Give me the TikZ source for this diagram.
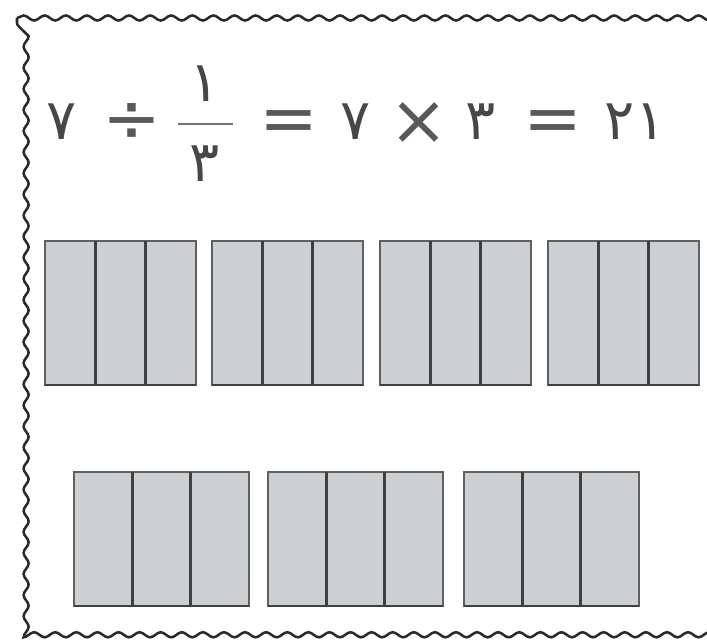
\documentclass[tikz,border=0pt]{standalone}
\usepackage{fontspec}
\newfontfamily\pfont{DejaVu Sans}
\usetikzlibrary{decorations.pathmorphing}
\definecolor{cellgray}{HTML}{CDD0D3}
\definecolor{edgegray}{HTML}{5E6062}
\definecolor{framegray}{HTML}{2A2A2A}

\begin{document}
\begin{tikzpicture}[
    x=0.025cm, y=-0.025cm,
    digit/.style={font=\pfont\fontsize{40}{46}\selectfont, text=black!72, inner sep=0pt, anchor=base},
    op/.style={font=\pfont\fontsize{50}{56}\selectfont, text=black!65, inner sep=0pt},
    unitbox/.style={draw=edgegray, fill=cellgray, line width=1.6pt},
    divider/.style={draw=black!75, line width=1.8pt},
    fracbar/.style={draw=black!55, line width=1.6pt},
    frame/.style={draw=framegray, line width=1.8pt, decorate,
        decoration={snake, amplitude=1.8pt, segment length=15pt}},
]
\useasboundingbox (0,0) rectangle (707,642);

% Frame
\draw[frame] (17,18) -- (703,18) -- (703,633) -- (17,633) -- cycle;

% Equation
\node[digit] (seven) at (62,140) {۷};
\node[op] (divide) at (132,123) {÷};
\node[digit] (num) at (205,102) {۱};
\node[digit] (den) at (205,182) {۳};
\draw[fracbar] (178,124) -- (233,124);
\node[op] (eqa) at (289,127) {=};
\node[digit] (sevenb) at (356,140) {۷};
\node[op] (times) at (419,124) {×};
\node[digit] (three) at (481,140) {۳};
\node[op] (eqb) at (553,127) {=};
\node[digit] (result) at (635,140) {۲۱};

% Top row: four wholes cut in thirds
\foreach \bx in {45,212,380,548} {
    \draw[unitbox] (\bx,241) rectangle ++(151,144);
    \draw[divider] ({\bx+50.3},241) -- ++(0,144);
    \draw[divider] ({\bx+100.7},241) -- ++(0,144);
    \draw[divider] (\bx,385) -- ++(151,0);
}

% Bottom row: three wholes cut in thirds
\foreach \bx in {74,268,464} {
    \draw[unitbox] (\bx,472) rectangle ++(175,134);
    \draw[divider] ({\bx+58.3},472) -- ++(0,134);
    \draw[divider] ({\bx+116.7},472) -- ++(0,134);
    \draw[divider] (\bx,606) -- ++(175,0);
}

\end{tikzpicture}
\end{document}
